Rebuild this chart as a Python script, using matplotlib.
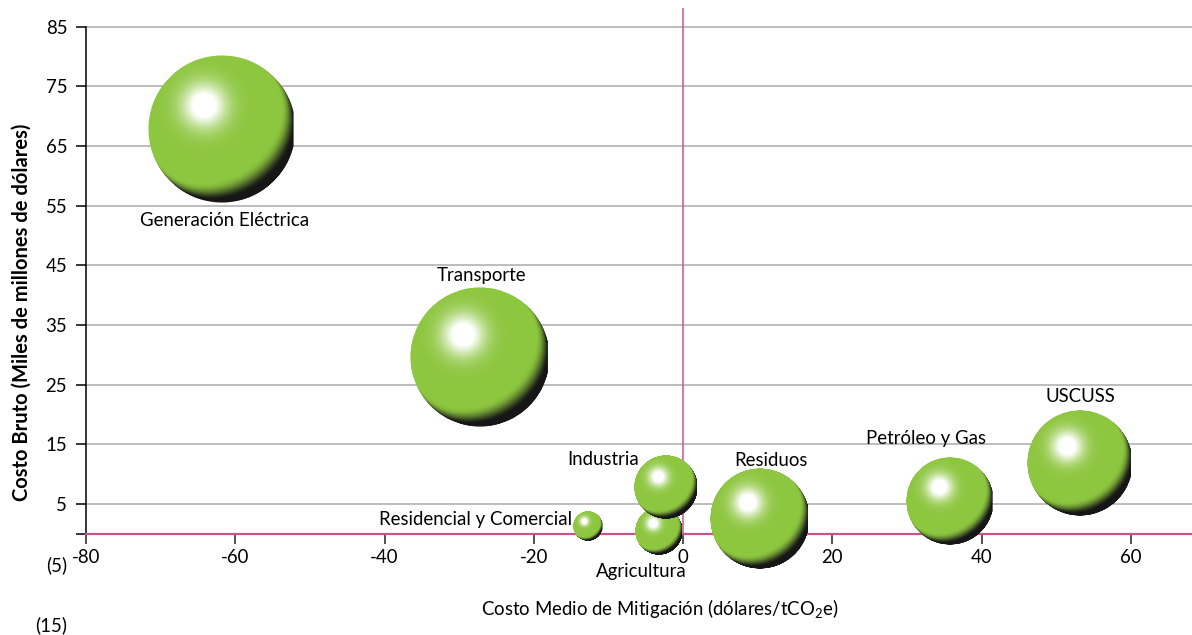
import numpy as np
import matplotlib
matplotlib.use('Agg')
import matplotlib.pyplot as plt
from matplotlib.offsetbox import OffsetImage, AnnotationBbox

plt.rcParams['font.family'] = ['Lato', 'DejaVu Sans']
plt.rcParams['mathtext.default'] = 'regular'

# data
sectors = ['Generación Eléctrica', 'Transporte', 'Residencial y Comercial',
           'Agricultura', 'Industria', 'Residuos', 'Petróleo y Gas', 'USCUSS']
avg_cost = [-61.8, -27.2, -12.7, -3.2, -2.3, 10.3, 35.8, 53.2]       # dólares/tCO2e
gross_cost = [67.8, 29.6, 1.3, 0.5, 7.9, 2.5, 5.5, 11.9]             # miles de millones
bubble_size = [74, 70, 15, 24, 32, 50, 44, 53]                       # relative radius

x_ticks = [-80, -60, -40, -20, 0, 20, 40, 60]
y_ticks = [-15, -5, 0, 5, 15, 25, 35, 45, 55, 65, 75, 85]
y_tick_labels = ['(15)', '(5)', '', '5', '15', '25', '35', '45', '55', '65', '75', '85']

# label offsets in pixels from bubble centre (styling only)
label_offsets = [(3, -91), (2, 82), (-113, 7), (-18, -41), (-63, 27),
                 (11, 59), (-24, 63), (0, 66)]

FS = 13.4
GREEN = np.array([141, 198, 63]) / 255.0
DARK = np.array([22, 22, 22]) / 255.0
MAGENTA = '#c9548a'


def sphere_image(n=300):
    """Shaded green sphere as an RGBA array."""
    xs = np.linspace(-1, 1, n)
    X, Y = np.meshgrid(xs, -xs)
    R2 = X ** 2 + Y ** 2
    Z = np.sqrt(np.clip(1 - R2, 0, 1))
    L = np.array([-0.35, 0.45, 0.82])
    L = L / np.linalg.norm(L)
    d = X * L[0] + Y * L[1] + Z * L[2]
    f = np.clip((d + 0.16) / 0.44, 0, 1)
    f = f * f * (3 - 2 * f)
    rgb = DARK + (GREEN - DARK) * f[..., None]
    spec = np.exp(-((X + 0.24) ** 2 + (Y - 0.32) ** 2) / (2 * 0.21 ** 2))
    spec = np.clip(spec * 1.3, 0, 1)[..., None]
    rgb = rgb * (1 - spec) + spec
    alpha = np.clip((1 - np.sqrt(R2)) * n / 2, 0, 1)
    alpha[X > 0.97] = 0
    return np.dstack([rgb, alpha])


fig = plt.figure(figsize=(11.92, 6.35), dpi=100)
ax = fig.add_axes([86 / 1192, 0, 1 - 86 / 1192, 627 / 635])
ax.set_xlim(-80, 68.2)
ax.set_ylim(-16.92, 88.1)

for s in ['top', 'right']:
    ax.spines[s].set_visible(False)
ax.spines['left'].set_bounds(0, 85)
ax.spines['left'].set_linewidth(1.1)
ax.spines['bottom'].set_position(('data', 0))
ax.spines['bottom'].set_color(MAGENTA)
ax.spines['bottom'].set_linewidth(1.6)

# horizontal grid and the vertical zero line
for yv in y_ticks:
    if yv > 0:
        ax.axhline(yv, color='#ababab', lw=1.1, zorder=0)
ax.axvline(0, ymin=(0 + 16.92) / (88.1 + 16.92), ymax=1, color=MAGENTA, lw=1.1, zorder=1)

ax.set_xticks(x_ticks)
ax.set_xticklabels([str(v) for v in x_ticks])
ax.set_yticks(y_ticks)
ax.set_yticklabels(y_tick_labels)
ax.tick_params(axis='x', length=7, width=1.1, color='#222222', pad=3.5, labelsize=FS)
ax.tick_params(axis='y', length=7, width=1.1, pad=6.5, labelsize=FS)
for t in ax.yaxis.get_major_ticks()[:2]:
    t.tick1line.set_visible(False)

img = sphere_image()
for name, xv, yv, r, (dx, dy) in zip(sectors, avg_cost, gross_cost, bubble_size, label_offsets):
    ob = OffsetImage(img, zoom=2 * r / img.shape[0], dpi_cor=False)
    ab = AnnotationBbox(ob, (xv, yv), frameon=False, pad=0, zorder=3)
    ax.add_artist(ab)
    ax.annotate(name, (xv, yv), xytext=(dx, dy), textcoords='offset pixels',
                ha='center', va='center', fontsize=FS, zorder=4)

fig.text(22 / 1192, 1 - 312 / 635, 'Costo Bruto (Miles de millones de dólares)',
         rotation=90, ha='center', va='center', fontsize=14.5, fontweight='bold')
fig.text(660 / 1192, 1 - 608 / 635, r'Costo Medio de Mitigación (dólares/tCO$_2$e)',
         ha='center', va='center', fontsize=FS)

fig.savefig('out.png', dpi=100)
